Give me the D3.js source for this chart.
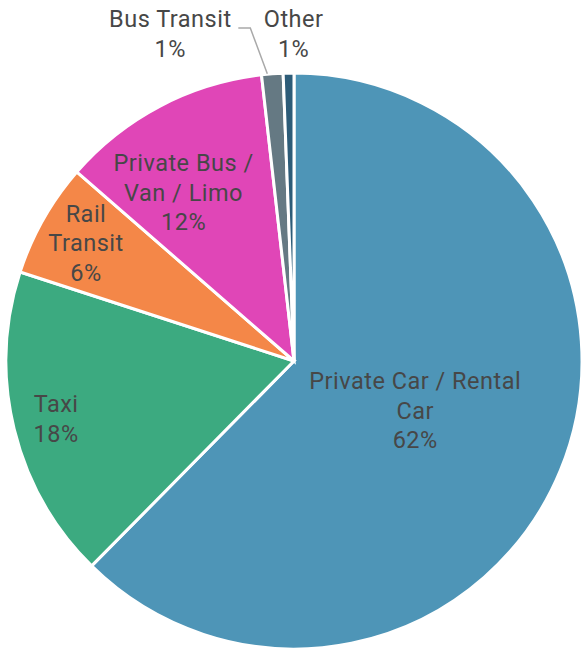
<!DOCTYPE html>
<html>
<head>
<meta charset="utf-8">
<script src="https://cdn.jsdelivr.net/npm/d3@7"></script>
<style>
  body { margin: 0; background: #fff; }
  text { font-family: Roboto, "Open Sans", sans-serif; fill: #474747; letter-spacing: 0.5px; }
</style>
</head>
<body>
<div id="chart"></div>
<script>
(function(d3) {
    'use strict';

    // data
    var modes = ['Private Car / Rental Car', 'Taxi', 'Rail Transit', 'Private Bus / Van / Limo', 'Bus Transit', 'Other'];
    var shares = [62.4, 17.6, 6.4, 11.8, 1.2, 0.6];
    var labelLines = [
        ['Private Car / Rental', 'Car'],
        ['Taxi'],
        ['Rail', 'Transit'],
        ['Private Bus /', 'Van / Limo'],
        ['Bus Transit'],
        ['Other']
    ];
    var colors = ['#4e95b7', '#3caa80', '#f48748', '#e046b7', '#657983', '#2d5c78'];

    var settings = {
        width: 587,
        height: 654,
        cx: 294,
        cy: 361,
        radius: 288,
        fontSize: 23.5,
        lineHeight: 29.5
    };

    // where each inside label sits: fraction of radius, and a nudge in degrees
    var labelRadius = [0.455, 0.85, 0.83, 0.7];
    var labelNudge = [0, 0, 0, -5.5];

    var data = modes.map(function(m, i) {
        return { mode: m, value: shares[i], lines: labelLines[i] };
    });

    var color = d3.scaleOrdinal().domain(modes).range(colors);

    var pie = d3.pie()
        .sort(null)
        .value(function(d) { return d.value; });

    var arc = d3.arc()
        .innerRadius(0)
        .outerRadius(settings.radius);

    var svg = d3.select('#chart').append('svg')
        .attr('width', settings.width)
        .attr('height', settings.height);

    var g = svg.append('g')
        .attr('transform', 'translate(' + settings.cx + ',' + settings.cy + ')');

    var arcs = pie(data);

    g.selectAll('path')
        .data(arcs)
        .enter()
        .append('path')
        .attr('d', arc)
        .attr('fill', function(d) { return color(d.data.mode); })
        .attr('stroke', '#fff')
        .attr('stroke-width', 3)
        .attr('stroke-linejoin', 'miter');

    function writeLabel(x, y, lines, pct) {
        var all = lines.concat([pct + '%']);
        var t = g.append('text')
            .attr('text-anchor', 'middle')
            .style('font-size', settings.fontSize + 'px');
        var top = y - (all.length - 1) * settings.lineHeight / 2;
        all.forEach(function(s, i) {
            t.append('tspan')
                .attr('x', x)
                .attr('y', top + i * settings.lineHeight)
                .attr('dy', '0.35em')
                .text(s);
        });
    }

    // inside labels
    arcs.slice(0, 4).forEach(function(d, i) {
        var a = (d.startAngle + d.endAngle) / 2 + labelNudge[i] * Math.PI / 180;
        var r = settings.radius * labelRadius[i];
        writeLabel(Math.sin(a) * r, -Math.cos(a) * r, d.data.lines, Math.round(d.data.value));
    });

    // outside labels for the two thin slices
    var busArc = arcs[4];
    var otherArc = arcs[5];
    var labelY = 34 - settings.cy;

    var otherA = (otherArc.startAngle + otherArc.endAngle) / 2;
    writeLabel(Math.sin(otherA) * settings.radius + 5, labelY, otherArc.data.lines, Math.round(otherArc.data.value));

    var busA = (busArc.startAngle + busArc.endAngle) / 2;
    var bx = Math.sin(busA) * settings.radius;
    var by = -Math.cos(busA) * settings.radius;
    writeLabel(bx - 102, labelY, busArc.data.lines, Math.round(busArc.data.value));

    // leader line
    g.append('polyline')
        .attr('points', [
            [bx - 34, labelY - 6],
            [bx - 22, labelY - 6],
            [bx - 5, by]
        ].map(function(p) { return p.join(','); }).join(' '))
        .attr('fill', 'none')
        .attr('stroke', '#a9a9a9')
        .attr('stroke-width', 1.5);

})(window.d3);
</script>
</body>
</html>
